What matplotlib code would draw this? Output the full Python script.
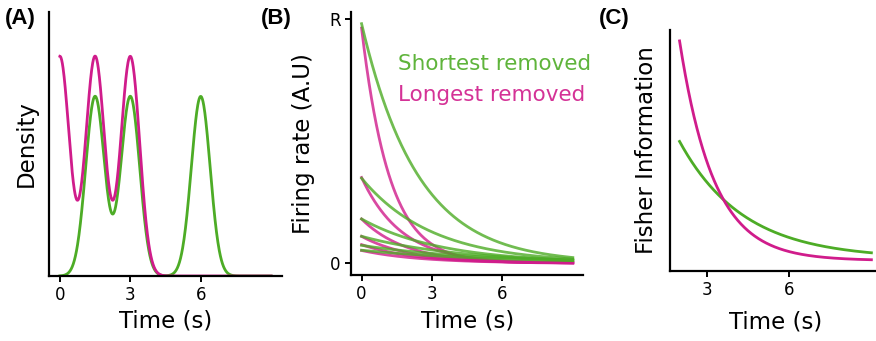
import numpy as np
import matplotlib
matplotlib.use("Agg")
import matplotlib.pyplot as plt

# colours (PiYG-ish)
GREEN = "#4dac26"
MAGENTA = "#d01c8b"

# (A) interval densities: gaussian bumps
time_end = 9.0
green_means = [1.5, 3.0, 6.0]
magenta_means = [0.0, 1.5, 3.0]
bump_sd = 0.4
green_height = 0.333
magenta_height = 0.407

# (B) firing rates: start value (fraction of R) and decay constant (s)
green_start = [0.981, 0.348, 0.181, 0.110, 0.073, 0.053]
green_tau = [2.4, 3.0, 3.4, 4.2, 5.0, 5.5]
magenta_start = [0.963, 0.351, 0.181, 0.110, 0.076, 0.052]
magenta_tau = [1.19, 1.7, 1.9, 2.1, 2.3, 2.5]

# (C) fisher information: offset, amplitude, decay constant, from t = 2 s
fi_t0 = 2.0
green_fi = [12.0, 119.5, 2.33]
magenta_fi = [10.0, 224.0, 1.25]

plt.rcParams["font.family"] = "DejaVu Sans"

fig = plt.figure(figsize=(8.76, 3.41), dpi=100)
axA = fig.add_axes([0.0563, 0.1906, 0.2653, 0.7751])
axB = fig.add_axes([0.4007, 0.1935, 0.2652, 0.7721])
axC = fig.add_axes([0.7648, 0.2062, 0.2409, 0.7059])

for ax in (axA, axB, axC):
    for s in ("top", "right"):
        ax.spines[s].set_visible(False)
    for s in ("left", "bottom"):
        ax.spines[s].set_linewidth(1.6)
    ax.tick_params(width=1.4, length=4, labelsize=12)

# ---- (A)
t = np.linspace(0, time_end, 600)
dens_g = sum(green_height * np.exp(-(t - m) ** 2 / (2 * bump_sd ** 2)) for m in green_means)
dens_m = sum(magenta_height * np.exp(-(t - m) ** 2 / (2 * bump_sd ** 2)) for m in magenta_means)
axA.plot(t, dens_g, color=GREEN, lw=2)
axA.plot(t, dens_m, color=MAGENTA, lw=2)
axA.set_ylim(0, 0.49)
axA.set_xticks([0, 3, 6])
axA.set_yticks([])
axA.set_xlabel("Time (s)", fontsize=16.5)
axA.set_ylabel("Density", fontsize=16.5)
axA.yaxis.set_label_coords(-0.049, 0.5)
axA.xaxis.set_label_coords(0.5, -0.125)

# ---- (B)
for a, tau in zip(magenta_start, magenta_tau):
    axB.plot(t, a * np.exp(-t / tau), color=MAGENTA, lw=2, alpha=0.8)
for a, tau in zip(green_start, green_tau):
    axB.plot(t, a * np.exp(-t / tau), color=GREEN, lw=2, alpha=0.8)
axB.set_xticks([0, 3, 6])
axB.set_yticks([0, 1])
axB.set_yticklabels(["0", "R"])
axB.set_xlabel("Time (s)", fontsize=16.5)
axB.set_ylabel("Firing rate (A.U)", fontsize=16.5)
axB.yaxis.set_label_coords(-0.155, 0.5)
axB.xaxis.set_label_coords(0.5, -0.13)
axB.text(1.55, 0.79, "Shortest removed", color=GREEN, fontsize=15.5, alpha=0.9)
axB.text(1.55, 0.665, "Longest removed", color=MAGENTA, fontsize=15.5, alpha=0.9)

# ---- (C)
tc = np.linspace(fi_t0, time_end, 400)
axC.plot(tc, green_fi[0] + green_fi[1] * np.exp(-(tc - fi_t0) / green_fi[2]), color=GREEN, lw=2)
axC.plot(tc, magenta_fi[0] + magenta_fi[1] * np.exp(-(tc - fi_t0) / magenta_fi[2]), color=MAGENTA, lw=2)
axC.set_xticks([3, 6])
axC.set_yticks([])
axC.set_xlabel("Time (s)", fontsize=16.5)
axC.set_ylabel("Fisher Information", fontsize=16.5)
axC.yaxis.set_label_coords(-0.057, 0.5)
axC.xaxis.set_label_coords(0.5, -0.167)

# panel letters
for x, lab in [(0.006, "(A)"), (0.298, "(B)"), (0.684, "(C)")]:
    fig.text(x, 0.978, lab, fontsize=16, fontweight="bold",
             family="Liberation Sans", va="top", ha="left")

fig.savefig("out.png", dpi=100)
